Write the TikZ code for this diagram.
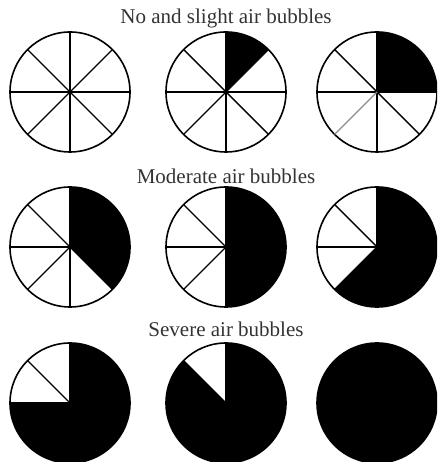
\documentclass[tikz,border=0pt]{standalone}
\usepackage{fontspec}
\setmainfont{Liberation Serif}
\newcommand\airpie[4]{%
  \coordinate (#1) at #2;
  \fill (#1) -- ++(#3:60) arc[start angle=#3, end angle=90, radius=60] -- cycle;
  \foreach \a in {#4} {\draw[spoke] (#1) -- ++(\a:60);}
  \draw[rim] (#1) circle[radius=60];
}
\begin{document}
\begin{tikzpicture}[x=1pt,y=1pt,
  rim/.style={line width=1.6pt},
  spoke/.style={line width=1.4pt},
  graysp/.style={line width=1.4pt, draw=black!45},
  title/.style={font=\fontsize{21}{25}\selectfont, text=black!80, anchor=base, inner sep=0pt}]
\useasboundingbox (0,0) rectangle (437,462);
\clip (0,0) rectangle (437,462);
% titles
\node[title] (t1) at (226,438) {No and slight air bubbles};
\node[title] (t2) at (226,278) {Moderate air bubbles};
\node[title] (t3) at (226,125) {Severe air bubbles};
% row 1
\airpie{a1}{(70,370)}{90}{0,45,90,135,180,225,270,315}
\airpie{a2}{(226,370)}{45}{0,45,90,135,180,225,270,315}
\airpie{a3}{(377,370)}{0}{0,90,135,180,270,315}
\draw[graysp] (a3) -- ++(225:60);
% row 2
\airpie{b1}{(70,215)}{-45}{90,135,180,225,270,315}
\airpie{b2}{(226,215)}{-90}{90,135,180,225,270}
\airpie{b3}{(377,215)}{-135}{90,135,180,225}
% row 3
\airpie{c1}{(70,59)}{-180}{90,135,180}
\airpie{c2}{(226,59)}{-225}{90,135}
\airpie{c3}{(377,59)}{-270}{}
\end{tikzpicture}
\end{document}
